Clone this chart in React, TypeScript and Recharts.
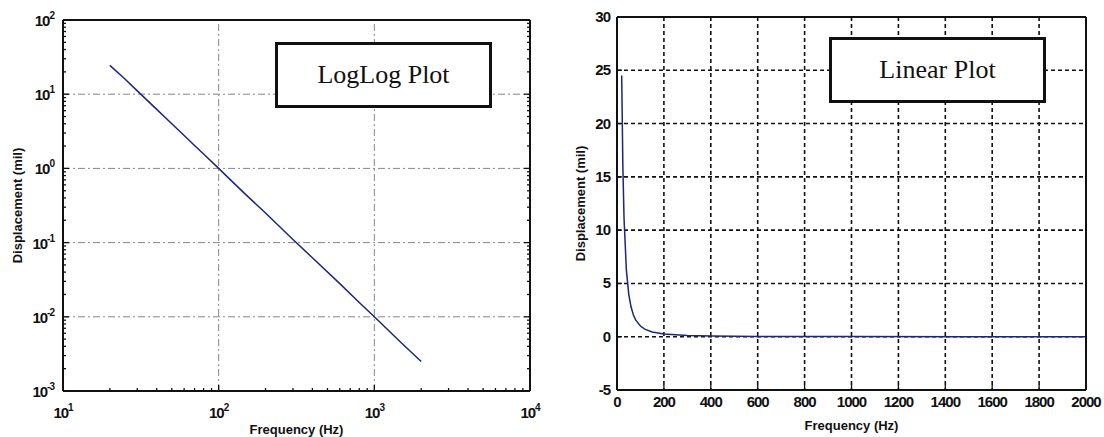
import React from "react";
import { CartesianGrid, Label, Line, LineChart, ReferenceLine, XAxis, YAxis } from "recharts";

// displacement vs frequency (same curve in both)
const FREQ_HZ = [20, 25, 30, 40, 50, 60, 70, 80, 100, 120, 150, 200, 300, 400, 600, 800, 1000, 1500, 2000];
const DISPLACEMENT_MIL = [
  24.5, 16, 11.1, 6.25, 4, 2.78, 2.04, 1.56, 1, 0.69, 0.44, 0.25, 0.11, 0.0625, 0.028, 0.0156, 0.01, 0.0044,
  0.0025,
];

const LOG_X_DECADES = [10, 100, 1000, 10000];
const LOG_Y_DECADES = [0.001, 0.01, 0.1, 1, 10, 100];
const LOG_STEPS = [1, 2, 3, 4, 5, 6, 7, 8, 9];
const LOG_X_GRID = [100, 1000];
const LOG_Y_GRID = [0.01, 0.1, 1, 10];

const LIN_X_TICKS = [0, 200, 400, 600, 800, 1000, 1200, 1400, 1600, 1800, 2000];
const LIN_Y_TICKS = [-5, 0, 5, 10, 15, 20, 25, 30];

const data = FREQ_HZ.map((f, i) => ({ f, d: DISPLACEMENT_MIL[i] }));

const withMinors = (decades: number[]) =>
  decades
    .slice(0, -1)
    .flatMap((d) => LOG_STEPS.map((s) => Number((d * s).toPrecision(6))))
    .concat(decades[decades.length - 1]);

const LOG_X_TICKS = withMinors(LOG_X_DECADES);
const LOG_Y_TICKS = withMinors(LOG_Y_DECADES);

const INK = "#111";
const TICK_FONT: React.CSSProperties = {
  fontFamily: "'Liberation Sans', Arial, sans-serif",
  fontWeight: 700,
  fontSize: 15,
  letterSpacing: -1,
  fill: INK,
};
const TITLE_FONT: React.CSSProperties = {
  fontFamily: "'Liberation Sans', Arial, sans-serif",
  fontWeight: 700,
  fontSize: 13,
  fill: INK,
};
const AXIS_LINE = { stroke: INK, strokeWidth: 2 };

const isDecade = (v: number) => Math.abs(Math.log10(v) - Math.round(Math.log10(v))) < 1e-6;

const Pow10 = ({ v, ...rest }: any) => (
  <text {...rest} style={TICK_FONT}>
    <tspan>10</tspan>
    <tspan dy={-7} fontSize={10}>
      {Math.round(Math.log10(v))}
    </tspan>
  </text>
);

function LogBottomTick({ x, y, payload }: any) {
  const major = isDecade(payload.value);
  return (
    <g>
      <line x1={x} x2={x} y1={y} y2={y - (major ? 6 : 3)} stroke={INK} strokeWidth={1.3} />
      {major && <Pow10 v={payload.value} x={x} y={y + 27} textAnchor="middle" />}
    </g>
  );
}

function LogTopTick({ x, y, payload }: any) {
  const major = isDecade(payload.value);
  return <line x1={x} x2={x} y1={y} y2={y + (major ? 6 : 3)} stroke={INK} strokeWidth={1.3} />;
}

function LogLeftTick({ x, y, payload }: any) {
  const major = isDecade(payload.value);
  return (
    <g>
      <line x1={x} x2={x + (major ? 6 : 3)} y1={y} y2={y} stroke={INK} strokeWidth={1.3} />
      {major && <Pow10 v={payload.value} x={x - 9} y={y + 6} textAnchor="end" />}
    </g>
  );
}

function LogRightTick({ x, y, payload }: any) {
  const major = isDecade(payload.value);
  return <line x1={x} x2={x - (major ? 6 : 3)} y1={y} y2={y} stroke={INK} strokeWidth={1.3} />;
}

function LinBottomTick({ x, y, payload }: any) {
  return (
    <g>
      <line x1={x} x2={x} y1={y} y2={y - 5} stroke={INK} strokeWidth={1.3} />
      <text x={x} y={y + 17} textAnchor="middle" style={TICK_FONT}>
        {payload.value}
      </text>
    </g>
  );
}

function LinTopTick({ x, y }: any) {
  return <line x1={x} x2={x} y1={y} y2={y + 5} stroke={INK} strokeWidth={1.3} />;
}

function LinLeftTick({ x, y, payload }: any) {
  return (
    <g>
      <line x1={x} x2={x + 5} y1={y} y2={y} stroke={INK} strokeWidth={1.3} />
      <text x={x - 7} y={y + 5} textAnchor="end" style={TICK_FONT}>
        {payload.value}
      </text>
    </g>
  );
}

function LinRightTick({ x, y }: any) {
  return <line x1={x} x2={x - 5} y1={y} y2={y} stroke={INK} strokeWidth={1.3} />;
}

const xTitle = (dy: number) => (props: any) => {
  const vb = props.viewBox;
  return (
    <text x={vb.x + vb.width / 2} y={vb.y + dy} textAnchor="middle" style={TITLE_FONT}>
      Frequency (Hz)
    </text>
  );
};

const yTitle = (dx: number) => (props: any) => {
  const vb = props.viewBox;
  const cx = vb.x + dx;
  const cy = vb.y + vb.height / 2;
  return (
    <text
      x={cx}
      y={cy}
      transform={`rotate(-90 ${cx} ${cy})`}
      textAnchor="middle"
      dominantBaseline="central"
      style={TITLE_FONT}
    >
      Displacement (mil)
    </text>
  );
};

const boxStyle = (left: number, top: number): React.CSSProperties => ({
  position: "absolute",
  left,
  top,
  width: 211,
  height: 60,
  border: `3px solid ${INK}`,
  background: "#fff",
  display: "flex",
  alignItems: "center",
  justifyContent: "center",
  fontFamily: "'Liberation Serif', 'Times New Roman', serif",
  fontSize: 26,
  color: INK,
});

const LINE_COLOR = "#1c2680";
const LOG_GRID = { stroke: "#85858c", strokeWidth: 1, strokeDasharray: "7 3 2 3" };

export default function App() {
  return (
    <div
      style={{ position: "absolute", left: 0, top: 0, width: 1104, height: 437, background: "#fff", overflow: "hidden" }}
    >
      <div style={{ position: "absolute", left: 0, top: 0 }}>
        <LineChart width={560} height={437} data={data} margin={{ top: 19, right: 29, bottom: 16, left: 13 }}>
          {LOG_X_GRID.map((v) => (
            <ReferenceLine key={`x${v}`} x={v} {...LOG_GRID} />
          ))}
          {LOG_Y_GRID.map((v) => (
            <ReferenceLine key={`y${v}`} y={v} {...LOG_GRID} />
          ))}
          <XAxis
            dataKey="f"
            type="number"
            scale="log"
            domain={[10, 10000]}
            ticks={LOG_X_TICKS}
            interval={0}
            tickSize={0}
            tickMargin={0}
            tickLine={false}
            tick={LogBottomTick}
            axisLine={AXIS_LINE}
            height={30}
            allowDataOverflow
          >
            <Label content={xTitle(43)} />
          </XAxis>
          <XAxis
            xAxisId="top"
            orientation="top"
            type="number"
            scale="log"
            domain={[10, 10000]}
            ticks={LOG_X_TICKS}
            interval={0}
            tickSize={0}
            tickMargin={0}
            tickLine={false}
            tick={LogTopTick}
            axisLine={AXIS_LINE}
            height={1}
            allowDataOverflow
          />
          <YAxis
            type="number"
            scale="log"
            domain={[0.001, 100]}
            ticks={LOG_Y_TICKS}
            interval={0}
            tickSize={0}
            tickMargin={0}
            tickLine={false}
            tick={LogLeftTick}
            axisLine={AXIS_LINE}
            width={50}
            allowDataOverflow
          >
            <Label content={yTitle(4)} />
          </YAxis>
          <YAxis
            yAxisId="right"
            orientation="right"
            type="number"
            scale="log"
            domain={[0.001, 100]}
            ticks={LOG_Y_TICKS}
            interval={0}
            tickSize={0}
            tickMargin={0}
            tickLine={false}
            tick={LogRightTick}
            axisLine={AXIS_LINE}
            width={1}
            allowDataOverflow
          />
          <Line dataKey="d" type="linear" stroke={LINE_COLOR} strokeWidth={1.5} dot={false} isAnimationActive={false} />
        </LineChart>
      </div>

      <div style={{ position: "absolute", left: 560, top: 0 }}>
        <LineChart width={544} height={437} data={data} margin={{ top: 16, right: 17, bottom: 17, left: 17 }}>
          <CartesianGrid stroke={INK} strokeWidth={1.6} strokeDasharray="4 3" />
          <XAxis
            dataKey="f"
            type="number"
            domain={[0, 2000]}
            ticks={LIN_X_TICKS}
            interval={0}
            tickSize={0}
            tickMargin={0}
            tickLine={false}
            tick={LinBottomTick}
            axisLine={AXIS_LINE}
            height={30}
          >
            <Label content={xTitle(40)} />
          </XAxis>
          <XAxis
            xAxisId="top"
            orientation="top"
            type="number"
            domain={[0, 2000]}
            ticks={LIN_X_TICKS}
            interval={0}
            tickSize={0}
            tickMargin={0}
            tickLine={false}
            tick={LinTopTick}
            axisLine={AXIS_LINE}
            height={1}
          />
          <YAxis
            type="number"
            domain={[-5, 30]}
            ticks={LIN_Y_TICKS}
            interval={0}
            tickSize={0}
            tickMargin={0}
            tickLine={false}
            tick={LinLeftTick}
            axisLine={AXIS_LINE}
            width={40}
          >
            <Label content={yTitle(3)} />
          </YAxis>
          <YAxis
            yAxisId="right"
            orientation="right"
            type="number"
            domain={[-5, 30]}
            ticks={LIN_Y_TICKS}
            interval={0}
            tickSize={0}
            tickMargin={0}
            tickLine={false}
            tick={LinRightTick}
            axisLine={AXIS_LINE}
            width={1}
          />
          <Line dataKey="d" type="linear" stroke={LINE_COLOR} strokeWidth={1.5} dot={false} isAnimationActive={false} />
        </LineChart>
      </div>

      <div style={boxStyle(275, 42)}>LogLog Plot</div>
      <div style={boxStyle(829, 37)}>Linear Plot</div>
    </div>
  );
}
